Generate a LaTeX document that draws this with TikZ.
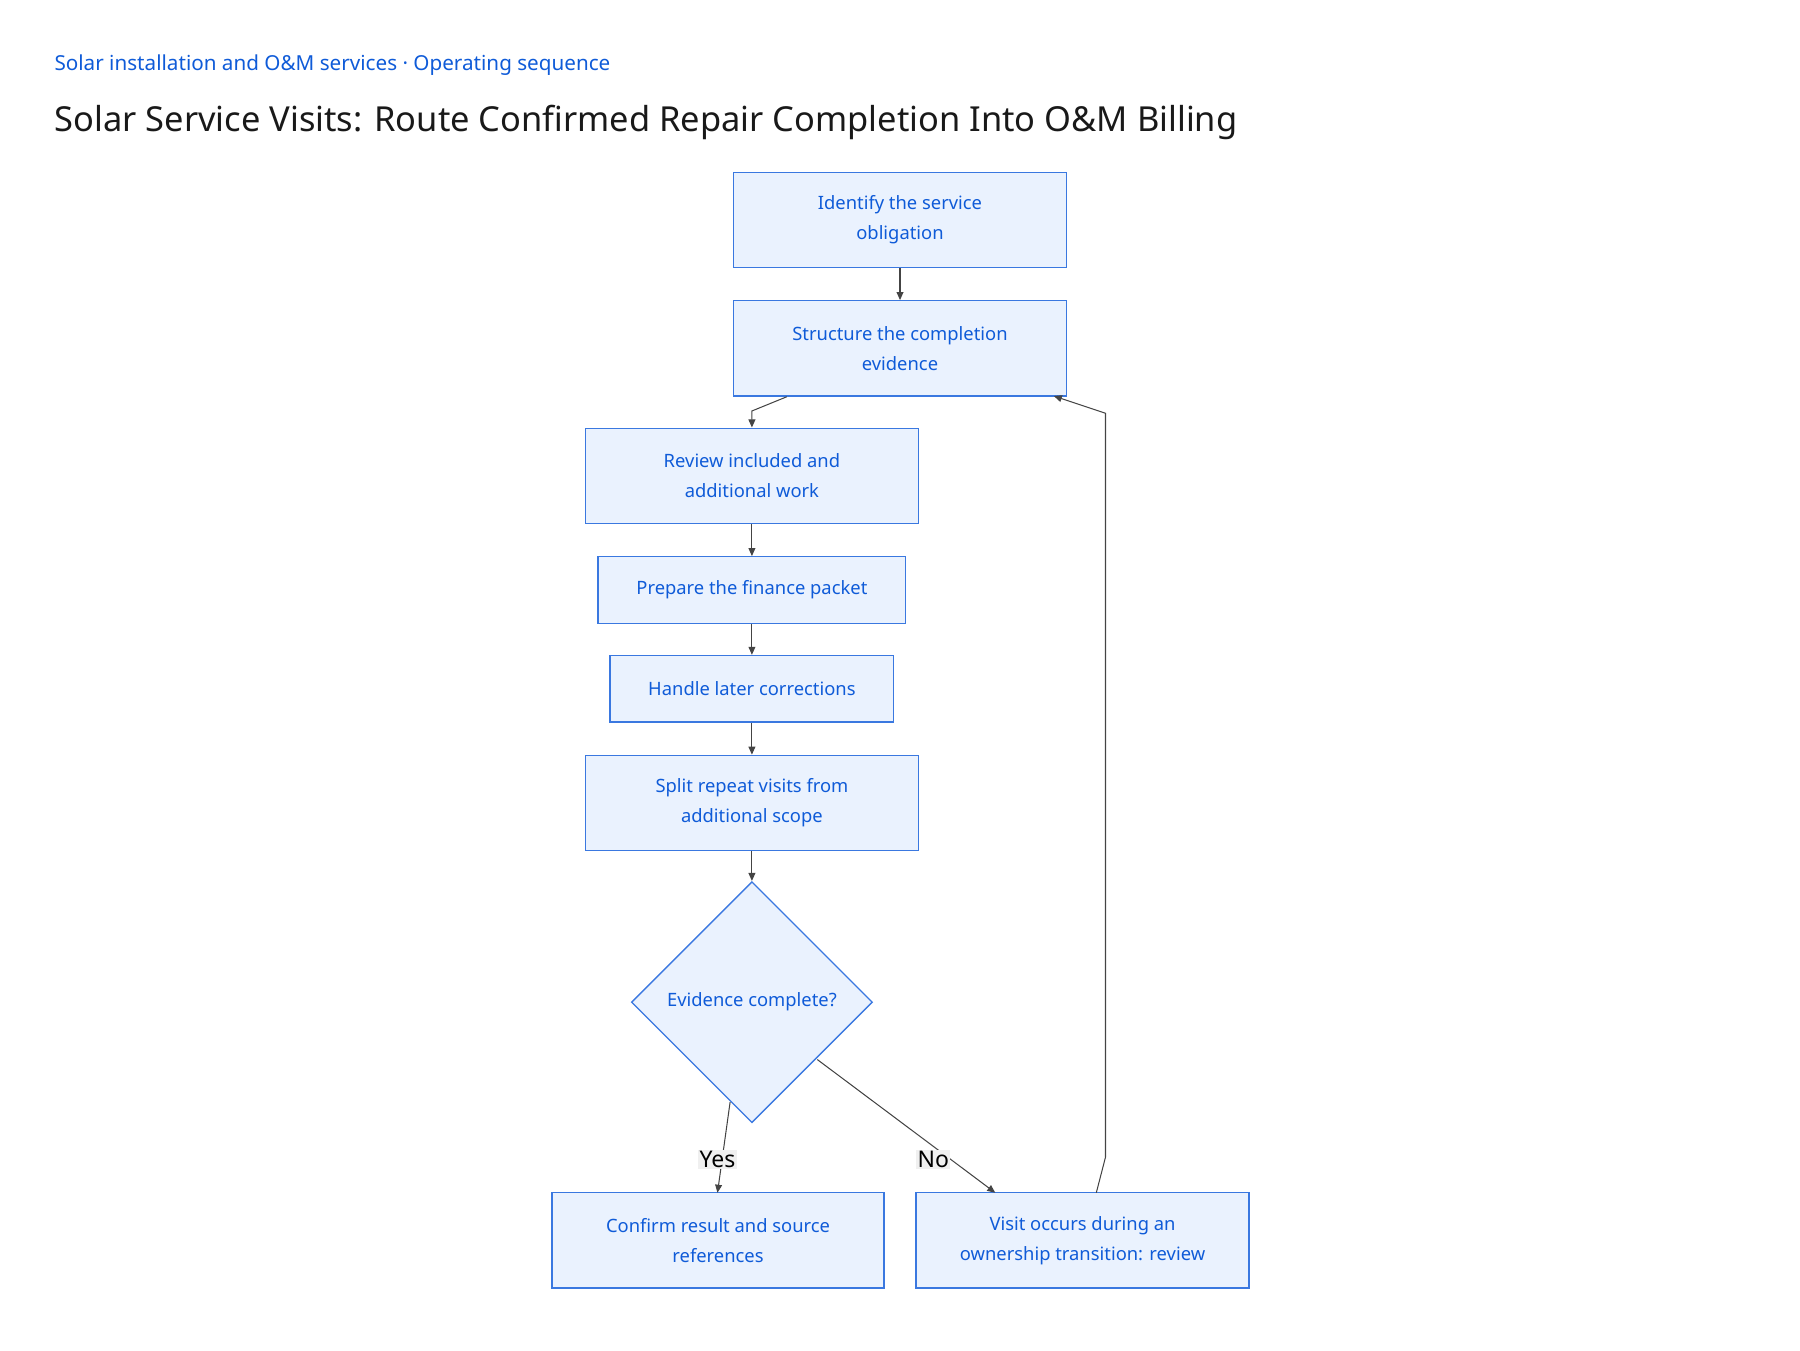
\documentclass[tikz,border=0pt]{standalone}
\usepackage{fontspec}
\setmainfont{Noto Sans}
\usetikzlibrary{shapes.geometric,arrows.meta}
\definecolor{bfill}{HTML}{EAF2FE}
\definecolor{bdraw}{HTML}{3A78E0}
\definecolor{btext}{HTML}{0F5BD8}
\definecolor{edge}{HTML}{444444}
\begin{document}
\begin{tikzpicture}[x=1pt,y=-1pt,
  box/.style={draw=bdraw,fill=bfill,line width=1.2pt,text=btext,font=\fontsize{16}{26}\selectfont,align=center,inner sep=0pt},
  dia/.style={diamond,draw=bdraw,fill=bfill,line width=1.2pt,text=btext,font=\fontsize{16}{26}\selectfont,minimum width=210pt,minimum height=210pt,inner sep=0pt},
  conn/.style={draw=edge,line width=0.9pt,-{Triangle[length=7pt,width=6pt]}},
  lbl/.style={fill=black!6,text=black,font=\fontsize{20}{24}\selectfont,inner sep=1pt}]
\useasboundingbox (0,0) rectangle (1568,1176);
\node[anchor=west,text=btext,font=\fontsize{18}{22}\selectfont] (sub) at (44,57) {Solar installation and O\&M services · Operating sequence};
\node[anchor=west,text=black!90,font=\fontsize{30}{36}\selectfont] (title) at (44,107) {Solar Service Visits: Route Confirmed Repair Completion Into O\&M Billing};
\node[box,minimum width=290pt,minimum height=83pt] (n1) at (784,191.5) {Identify the service\\obligation};
\node[box,minimum width=290pt,minimum height=83pt] (n2) at (784,303.5) {Structure the completion\\evidence};
\node[box,minimum width=290pt,minimum height=83pt] (n3) at (655,414.5) {Review included and\\additional work};
\node[box,minimum width=268pt,minimum height=58pt] (n4) at (655,514) {Prepare the finance packet};
\node[box,minimum width=247pt,minimum height=58pt] (n5) at (655,600) {Handle later corrections};
\node[box,minimum width=290pt,minimum height=83pt] (n6) at (655,699.5) {Split repeat visits from\\additional scope};
\node[dia] (d) at (655,873) {Evidence complete?};
\node[box,minimum width=289pt,minimum height=83pt] (n7) at (625.5,1080.5) {Confirm result and source\\references};
\node[box,minimum width=290pt,minimum height=83pt] (n8) at (943,1080.5) {Visit occurs during an\\ownership transition: review};
\draw[conn] (n1) -- (n2);
\draw[conn] (n2.south west) ++(47,0) coordinate (a1) -- (655,358) -- (n3.north);
\draw[conn] (n3) -- (n4);
\draw[conn] (n4) -- (n5);
\draw[conn] (n5) -- (n6);
\draw[conn] (n6) -- (d.north);
\coordinate (y1) at (636,960);
\coordinate (y2) at (625,1039);
\draw[conn] (y1) -- (y2);
\node[lbl] (yes) at (625,1010) {Yes};
\coordinate (o1) at (712,923);
\coordinate (o2) at (867,1039);
\draw[conn] (o1) -- (o2);
\node[lbl] (no) at (813,1010) {No};
\coordinate (b1) at (955,1039);
\coordinate (b2) at (918,345);
\draw[conn] (b1) -- (963,1008) -- (963,360) -- (b2);
\end{tikzpicture}
\end{document}
